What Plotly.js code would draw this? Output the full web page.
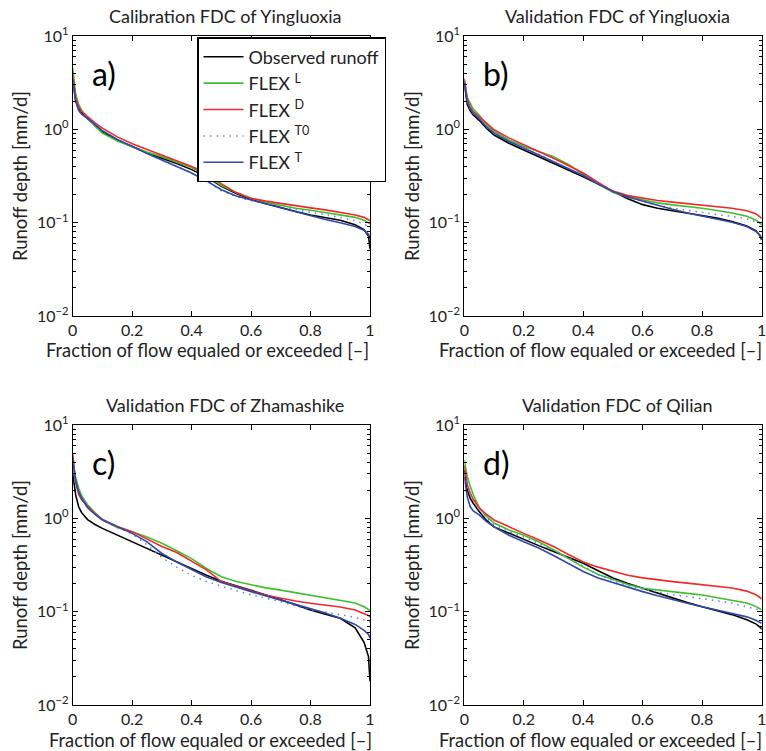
<!DOCTYPE html>
<html>
<head>
<meta charset="utf-8">
<script src="https://cdn.plot.ly/plotly-3.0.1.min.js"></script>
<style>html,body{margin:0;padding:0;background:#fff;}#chart{width:766px;height:751px;}</style>
</head>
<body>
<div id="chart"></div>
<script>
// Fraction of flow equaled or exceeded (shared x grid)
const fraction = [0, 0.005, 0.01, 0.02, 0.03, 0.05, 0.075, 0.1, 0.15, 0.2, 0.25, 0.3, 0.35, 0.4, 0.45, 0.5, 0.55, 0.6, 0.65, 0.7, 0.75, 0.8, 0.85, 0.9, 0.95, 0.98, 0.995, 1];

// Panel a) Calibration FDC of Yingluoxia
const obsA  = [3.6, 2.5, 2.05, 1.68, 1.5, 1.3, 1.1, 0.94, 0.77, 0.65, 0.56, 0.49, 0.43, 0.37, 0.31, 0.245, 0.205, 0.177, 0.16, 0.145, 0.132, 0.121, 0.113, 0.106, 0.095, 0.084, 0.072, 0.052];
const flexLA = [4.5, 3.0, 2.4, 1.85, 1.6, 1.33, 1.08, 0.91, 0.75, 0.65, 0.57, 0.51, 0.45, 0.39, 0.32, 0.25, 0.21, 0.183, 0.165, 0.153, 0.143, 0.136, 0.129, 0.122, 0.114, 0.106, 0.1, 0.097];
const flexDA = [3.8, 2.7, 2.2, 1.75, 1.55, 1.37, 1.17, 1.03, 0.83, 0.70, 0.61, 0.53, 0.46, 0.40, 0.34, 0.26, 0.21, 0.182, 0.17, 0.16, 0.151, 0.144, 0.137, 0.129, 0.121, 0.114, 0.108, 0.105];
const flexT0A = [3.4, 2.4, 2.0, 1.62, 1.45, 1.3, 1.1, 0.96, 0.78, 0.65, 0.55, 0.47, 0.40, 0.34, 0.28, 0.22, 0.19, 0.172, 0.158, 0.147, 0.138, 0.13, 0.122, 0.114, 0.105, 0.097, 0.09, 0.085];
const flexTA = [3.4, 2.4, 2.0, 1.6, 1.45, 1.31, 1.12, 0.97, 0.78, 0.65, 0.55, 0.47, 0.40, 0.34, 0.28, 0.225, 0.193, 0.175, 0.158, 0.143, 0.129, 0.117, 0.108, 0.1, 0.091, 0.083, 0.075, 0.068];

// Panel b) Validation FDC of Yingluoxia
const obsB  = [3.1, 2.2, 1.85, 1.58, 1.43, 1.25, 1.02, 0.87, 0.71, 0.60, 0.51, 0.43, 0.37, 0.31, 0.26, 0.215, 0.18, 0.156, 0.143, 0.134, 0.127, 0.12, 0.112, 0.103, 0.092, 0.082, 0.072, 0.065];
const flexLB = [3.4, 2.6, 2.2, 1.9, 1.65, 1.42, 1.12, 0.95, 0.77, 0.66, 0.58, 0.51, 0.42, 0.33, 0.26, 0.21, 0.19, 0.176, 0.163, 0.155, 0.149, 0.143, 0.135, 0.127, 0.117, 0.107, 0.099, 0.094];
const flexDB = [3.5, 2.5, 2.1, 1.74, 1.55, 1.37, 1.15, 0.99, 0.81, 0.68, 0.58, 0.49, 0.41, 0.34, 0.27, 0.218, 0.195, 0.182, 0.173, 0.166, 0.16, 0.155, 0.149, 0.143, 0.134, 0.125, 0.115, 0.111];
const flexT0B = [3.2, 2.3, 1.95, 1.65, 1.48, 1.3, 1.06, 0.91, 0.74, 0.63, 0.54, 0.45, 0.38, 0.32, 0.265, 0.215, 0.187, 0.17, 0.153, 0.143, 0.135, 0.128, 0.122, 0.117, 0.11, 0.102, 0.099, 0.097];
const flexTB = [3.2, 2.3, 1.95, 1.65, 1.48, 1.3, 1.06, 0.91, 0.74, 0.63, 0.53, 0.45, 0.38, 0.32, 0.26, 0.215, 0.188, 0.17, 0.152, 0.139, 0.127, 0.117, 0.109, 0.101, 0.091, 0.081, 0.073, 0.068];

// Panel c) Validation FDC of Zhamashike
const obsC  = [3.0, 2.2, 1.78, 1.33, 1.15, 0.97, 0.86, 0.78, 0.66, 0.56, 0.48, 0.40, 0.34, 0.285, 0.245, 0.212, 0.19, 0.17, 0.151, 0.134, 0.118, 0.104, 0.094, 0.085, 0.067, 0.047, 0.033, 0.018];
const flexLC = [3.6, 3.1, 2.8, 2.1, 1.75, 1.4, 1.15, 0.97, 0.8, 0.72, 0.63, 0.54, 0.45, 0.37, 0.29, 0.237, 0.21, 0.193, 0.18, 0.17, 0.16, 0.151, 0.142, 0.133, 0.124, 0.113, 0.106, 0.103];
const flexDC = [5.0, 3.2, 2.4, 1.8, 1.58, 1.35, 1.12, 0.97, 0.82, 0.72, 0.6, 0.5, 0.43, 0.35, 0.28, 0.21, 0.185, 0.166, 0.15, 0.139, 0.13, 0.123, 0.117, 0.112, 0.104, 0.096, 0.091, 0.088];
const flexT0C = [4.0, 2.9, 2.4, 1.9, 1.65, 1.3, 1.1, 0.95, 0.8, 0.68, 0.52, 0.38, 0.3, 0.245, 0.21, 0.187, 0.168, 0.152, 0.14, 0.128, 0.115, 0.105, 0.099, 0.093, 0.087, 0.082, 0.079, 0.078];
const flexTC = [4.4, 3.1, 2.5, 1.93, 1.65, 1.3, 1.1, 0.96, 0.81, 0.69, 0.56, 0.42, 0.34, 0.28, 0.235, 0.205, 0.183, 0.164, 0.147, 0.133, 0.12, 0.109, 0.097, 0.085, 0.073, 0.063, 0.057, 0.052];

// Panel d) Validation FDC of Qilian
const obsD  = [3.3, 2.5, 2.0, 1.64, 1.45, 1.18, 0.95, 0.81, 0.69, 0.59, 0.51, 0.44, 0.38, 0.33, 0.275, 0.23, 0.2, 0.178, 0.156, 0.139, 0.125, 0.113, 0.102, 0.093, 0.082, 0.074, 0.068, 0.065];
const flexLD = [4.2, 3.3, 2.8, 2.2, 1.8, 1.3, 1.05, 0.89, 0.75, 0.66, 0.56, 0.46, 0.37, 0.30, 0.25, 0.22, 0.195, 0.178, 0.17, 0.164, 0.157, 0.151, 0.142, 0.133, 0.124, 0.114, 0.108, 0.105];
const flexDD = [3.7, 2.8, 2.3, 1.86, 1.6, 1.3, 1.1, 0.96, 0.81, 0.69, 0.59, 0.50, 0.41, 0.34, 0.3, 0.27, 0.245, 0.23, 0.218, 0.21, 0.202, 0.195, 0.187, 0.179, 0.166, 0.152, 0.141, 0.136];
const flexT0D = [3.5, 2.7, 2.2, 1.8, 1.55, 1.25, 1.0, 0.86, 0.72, 0.63, 0.54, 0.46, 0.38, 0.31, 0.25, 0.215, 0.19, 0.175, 0.162, 0.152, 0.145, 0.139, 0.131, 0.123, 0.114, 0.107, 0.104, 0.103];
const flexTD = [2.8, 2.1, 1.7, 1.33, 1.2, 1.09, 0.92, 0.81, 0.66, 0.56, 0.48, 0.40, 0.33, 0.27, 0.23, 0.205, 0.182, 0.164, 0.148, 0.134, 0.123, 0.113, 0.104, 0.096, 0.088, 0.081, 0.077, 0.075];

const seriesNames = ['Observed runoff', 'FLEX <sup>L</sup>', 'FLEX <sup>D</sup>', 'FLEX <sup>T0</sup>', 'FLEX <sup>T</sup>'];
const panelTitles = ['Calibration FDC of Yingluoxia', 'Validation FDC of Yingluoxia', 'Validation FDC of Zhamashike', 'Validation FDC of Qilian'];
const panelLabels = ['a)', 'b)', 'c)', 'd)'];
const xAxisTitle = 'Fraction of flow equaled or exceeded [\u2013]';
const yAxisTitle = 'Runoff depth [mm/d]';
const xTickVals = [0, 0.2, 0.4, 0.6, 0.8, 1];
const xTickText = ['0', '0.2', '0.4', '0.6', '0.8', '1'];
const yTickVals = [0.01, 0.1, 1, 10];
const yTickText = ['10<sup>\u22122</sup>', '10<sup>\u22121</sup>', '10<sup>0</sup>', '10<sup>1</sup>'];

const panels = [
  [obsA, flexLA, flexDA, flexT0A, flexTA],
  [obsB, flexLB, flexDB, flexT0B, flexTB],
  [obsC, flexLC, flexDC, flexT0C, flexTC],
  [obsD, flexLD, flexDD, flexT0D, flexTD]
];

const styles = [
  {color: '#000000', width: 1.6, dash: 'solid'},
  {color: '#3fbf2f', width: 1.6, dash: 'solid'},
  {color: '#ee2a2a', width: 1.6, dash: 'solid'},
  {color: '#6a7fd8', width: 1.5, dash: '1.5px,5px'},
  {color: '#3347a8', width: 1.6, dash: 'solid'}
];
const drawOrder = [0, 1, 2, 3, 4];

const W = 766, H = 751;
const xDomPx = [[72.7, 370], [464.3, 761.7], [72.7, 370], [464.3, 761.7]];
const yDomPx = [[36, 316], [36, 316], [425, 705], [425, 705]];
const xTitlePx = [[207, 350], [600, 350], [210, 740], [600, 740]];

const FONT = 'Lato, "Liberation Sans", sans-serif';
const traces = [];
const layout = {
  width: W, height: H,
  margin: {l: 0, r: 0, t: 0, b: 0},
  paper_bgcolor: '#fff', plot_bgcolor: '#fff',
  font: {family: FONT, color: '#222', size: 16},
  showlegend: true,
  legend: {
    x: 197 / W, y: 1 - 37 / H, xanchor: 'left', yanchor: 'top',
    bgcolor: '#fff', bordercolor: '#000', borderwidth: 1.5,
    font: {family: FONT, size: 18, color: '#222'},
    tracegroupgap: 0, itemwidth: 40
  },
  annotations: []
};

const minorVals = [];
[0.01, 0.1, 1].forEach(b => { for (let k = 2; k <= 9; k++) minorVals.push(b * k); });

panels.forEach((series, p) => {
  const n = p + 1;
  const xa = n === 1 ? 'x' : 'x' + n;
  const ya = n === 1 ? 'y' : 'y' + n;
  drawOrder.forEach(s => {
    traces.push({
      type: 'scatter', mode: 'lines',
      x: fraction, y: series[s],
      xaxis: xa, yaxis: ya,
      name: seriesNames[s],
      showlegend: p === 0,
      line: {color: styles[s].color, width: styles[s].width, dash: styles[s].dash}
    });
  });
  const xd = [xDomPx[p][0] / W, xDomPx[p][1] / W];
  const yd = [1 - yDomPx[p][1] / H, 1 - yDomPx[p][0] / H];
  layout['xaxis' + (n === 1 ? '' : n)] = {
    domain: xd, anchor: ya, range: [0, 1],
    tickmode: 'array', tickvals: xTickVals, ticktext: xTickText,
    ticks: 'inside', ticklen: 5, tickcolor: '#000',
    showline: true, mirror: 'ticks', linecolor: '#000', linewidth: 1,
    showgrid: false, zeroline: false, ticklabeloverflow: 'allow',
    tickfont: {size: 16, color: '#222'}
  };
  layout['yaxis' + (n === 1 ? '' : n)] = {
    domain: yd, anchor: xa, type: 'log', range: [-2, 1],
    tickmode: 'array', tickvals: yTickVals, ticktext: yTickText,
    ticks: 'inside', ticklen: 5, tickcolor: '#000',
    minor: {tickmode: 'array', tickvals: minorVals, ticks: 'inside', ticklen: 3, tickcolor: '#000', showgrid: false},
    showline: true, mirror: 'ticks', linecolor: '#000', linewidth: 1,
    showgrid: false, zeroline: false, ticklabeloverflow: 'allow',
    tickfont: {size: 16, color: '#222'},
    title: {text: yAxisTitle, font: {size: 18.5, color: '#222'}, standoff: 4}
  };
  layout.annotations.push({
    xref: 'paper', yref: 'paper',
    x: xTitlePx[p][0] / W, y: 1 - xTitlePx[p][1] / H,
    xanchor: 'center', yanchor: 'middle',
    text: xAxisTitle, showarrow: false,
    font: {size: 18.3, color: '#222'}
  });
  layout.annotations.push({
    xref: 'paper', yref: 'paper',
    x: (xd[0] + xd[1]) / 2 + 4 / W, y: yd[1] + 7 / H,
    xanchor: 'center', yanchor: 'bottom',
    text: panelTitles[p], showarrow: false,
    font: {size: 18, color: '#222'}
  });
  layout.annotations.push({
    xref: 'paper', yref: 'paper',
    x: xd[0] + 17 / W, y: yd[1] - 16 / H,
    xanchor: 'left', yanchor: 'top',
    text: panelLabels[p], showarrow: false,
    font: {size: 32, color: '#000'}
  });
});

Plotly.newPlot('chart', traces, layout, {staticPlot: true, displayModeBar: false});
</script>
</body>
</html>
